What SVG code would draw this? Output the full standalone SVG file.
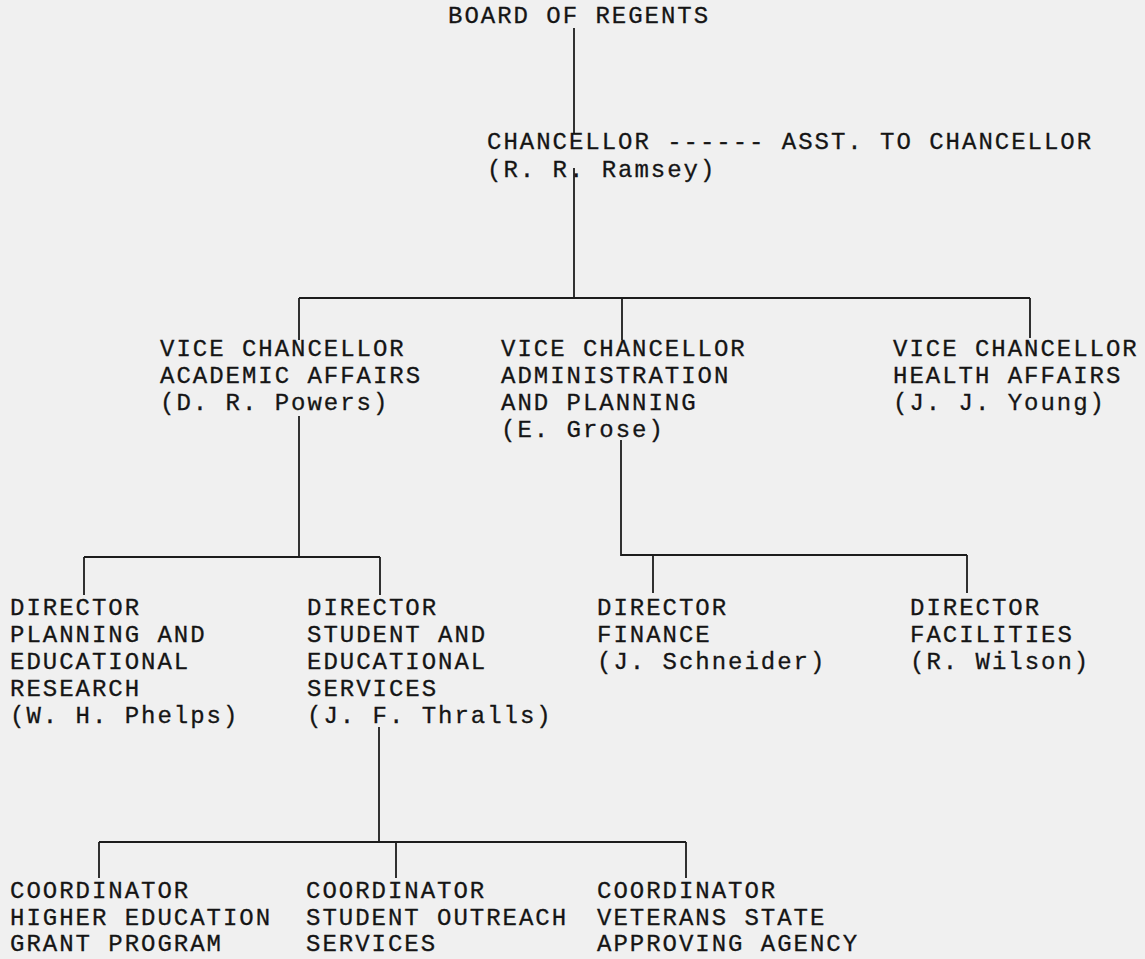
<svg xmlns="http://www.w3.org/2000/svg" width="1145" height="959" viewBox="0 0 1145 959">
<style>
.t{font-family:"Liberation Mono","Courier New",monospace;font-size:24px;letter-spacing:1.98px;fill:#151515;stroke:#151515;stroke-width:0.3}
.c{stroke:#1c1c1c;stroke-width:1.8;fill:none}
</style>
<rect width="1145" height="959" fill="#f0f0f0"/>
<g id="connectors" class="c">
<path d="M574 28V133"/>
<path d="M574 168V298"/>
<path d="M299 298H1030"/>
<path d="M299 298V340M622 298V340M1030 298V338"/>
<path d="M299 416V557"/>
<path d="M84 557H380M84 557V595M380 557V595"/>
<path d="M621 440V555H967M653 555V593M967 555V593"/>
<path d="M379 727V842"/>
<path d="M99 842H686M99 842V878M396 842V878M686 842V878"/>
</g>
<g id="conn-dashes"><text class="t" x="667.2" y="149">------</text></g>
<g id="board"><text class="t" x="448" y="23">BOARD OF REGENTS</text></g>
<g id="chancellor"><text class="t" x="487" y="149">CHANCELLOR</text><text class="t" x="487" y="177">(R. R. Ramsey)</text></g>
<g id="asst-chancellor"><text class="t" x="781.8" y="149">ASST. TO CHANCELLOR</text></g>
<g id="vc-academic"><text class="t" x="160" y="356">VICE CHANCELLOR</text><text class="t" x="160" y="383">ACADEMIC AFFAIRS</text><text class="t" x="160" y="410">(D. R. Powers)</text></g>
<g id="vc-admin"><text class="t" x="501" y="356">VICE CHANCELLOR</text><text class="t" x="501" y="383">ADMINISTRATION</text><text class="t" x="501" y="410">AND PLANNING</text><text class="t" x="501" y="437">(E. Grose)</text></g>
<g id="vc-health"><text class="t" x="893" y="356">VICE CHANCELLOR</text><text class="t" x="893" y="383">HEALTH AFFAIRS</text><text class="t" x="893" y="410">(J. J. Young)</text></g>
<g id="dir-planning"><text class="t" x="10" y="615">DIRECTOR</text><text class="t" x="10" y="642">PLANNING AND</text><text class="t" x="10" y="669">EDUCATIONAL</text><text class="t" x="10" y="696">RESEARCH</text><text class="t" x="10" y="723">(W. H. Phelps)</text></g>
<g id="dir-student"><text class="t" x="307" y="615">DIRECTOR</text><text class="t" x="307" y="642">STUDENT AND</text><text class="t" x="307" y="669">EDUCATIONAL</text><text class="t" x="307" y="696">SERVICES</text><text class="t" x="307" y="723">(J. F. Thralls)</text></g>
<g id="dir-finance"><text class="t" x="597" y="615">DIRECTOR</text><text class="t" x="597" y="642">FINANCE</text><text class="t" x="597" y="669">(J. Schneider)</text></g>
<g id="dir-facilities"><text class="t" x="910" y="615">DIRECTOR</text><text class="t" x="910" y="642">FACILITIES</text><text class="t" x="910" y="669">(R. Wilson)</text></g>
<g id="coord-grant"><text class="t" x="10" y="898">COORDINATOR</text><text class="t" x="10" y="924.5">HIGHER EDUCATION</text><text class="t" x="10" y="951">GRANT PROGRAM</text></g>
<g id="coord-outreach"><text class="t" x="306" y="898">COORDINATOR</text><text class="t" x="306" y="924.5">STUDENT OUTREACH</text><text class="t" x="306" y="951">SERVICES</text></g>
<g id="coord-veterans"><text class="t" x="597" y="898">COORDINATOR</text><text class="t" x="597" y="924.5">VETERANS STATE</text><text class="t" x="597" y="951">APPROVING AGENCY</text></g>
</svg>
